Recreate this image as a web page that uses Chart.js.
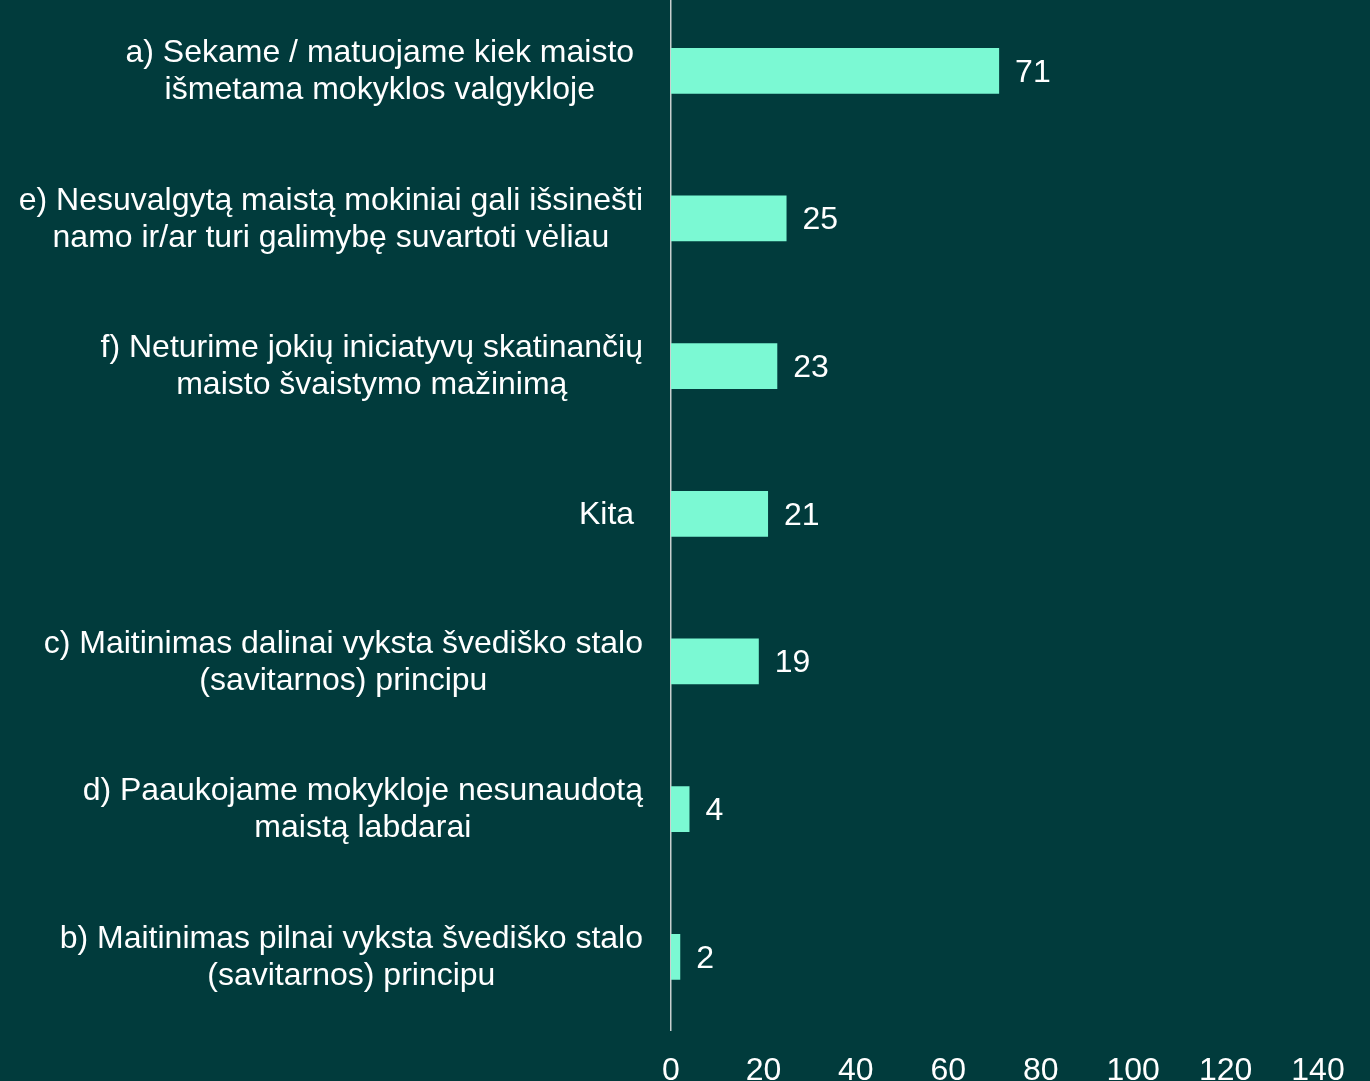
<!DOCTYPE html>
<html>
<head>
<meta charset="utf-8">
<script src="https://cdn.jsdelivr.net/npm/chart.js@4"></script>
<style>
  html, body { margin:0; padding:0; background:#013b3c; overflow:hidden; }
  #wrap { position:absolute; left:0; top:-3px; width:1370px; height:1114px; }
</style>
</head>
<body>
<div id="wrap"><canvas id="chart"></canvas></div>
<script>
// ---- Data ----
const labels = [
  ['a) Sekame / matuojame kiek maisto ', 'išmetama mokyklos valgykloje'],
  ['e) Nesuvalgytą maistą mokiniai gali išsinešti', 'namo ir/ar turi galimybę suvartoti vėliau'],
  ['f) Neturime jokių iniciatyvų skatinančių', 'maisto švaistymo mažinimą'],
  ['Kita '],
  ['c) Maitinimas dalinai vyksta švediško stalo', '(savitarnos) principu'],
  ['d) Paaukojame mokykloje nesunaudotą', 'maistą labdarai'],
  ['b) Maitinimas pilnai vyksta švediško stalo', '(savitarnos) principu'],
];
const values = [71, 25, 23, 21, 19, 4, 2];
const xTicks = [0, 20, 40, 60, 80, 100, 120, 140];

const FONT = 'Liberation Sans, Arial, sans-serif';
const TEXT = '#ffffff';

// ---- Category labels: block right-aligned, lines centred inside block ----
const categoryLabels = {
  id: 'categoryLabels',
  afterDraw(chart) {
    const { ctx, scales: { y } } = chart;
    const lh = 37;
    ctx.save();
    ctx.font = `32px ${FONT}`;
    ctx.fillStyle = TEXT;
    ctx.textAlign = 'center';
    ctx.textBaseline = 'middle';
    labels.forEach((lines, i) => {
      const cy = y.getPixelForValue(i);
      const widest = Math.max(...lines.map(l => ctx.measureText(l).width));
      const trimmed = Math.max(...lines.map(l => ctx.measureText(l.trimEnd()).width));
      const right = chart.chartArea.left - 28;
      const cx = right - widest + trimmed / 2;
      const top = cy - (lines.length - 1) * lh / 2 + 1;
      lines.forEach((l, k) => ctx.fillText(l.trimEnd(), cx, top + k * lh));
    });
    ctx.restore();
  }
};

// ---- Value labels after bar ends ----
const valueLabels = {
  id: 'valueLabels',
  afterDatasetsDraw(chart) {
    const { ctx } = chart;
    const meta = chart.getDatasetMeta(0);
    ctx.save();
    ctx.font = `32px ${FONT}`;
    ctx.fillStyle = TEXT;
    ctx.textAlign = 'left';
    ctx.textBaseline = 'middle';
    meta.data.forEach((bar, i) => {
      ctx.fillText(String(values[i]), bar.x + 16, bar.y + 2);
    });
    ctx.restore();
  }
};

new Chart(document.getElementById('chart'), {
  type: 'bar',
  data: {
    labels: labels.map(l => l.join(' ')),
    datasets: [{
      data: values,
      backgroundColor: '#7bf9d3',
      borderWidth: 0,
      categoryPercentage: 1,
      barPercentage: 0.31,
    }],
  },
  options: {
    indexAxis: 'y',
    responsive: true,
    maintainAspectRatio: false,
    animation: false,
    layout: { padding: { left: 671, right: 52, top: 0, bottom: 0 } },
    plugins: { legend: { display:false }, tooltip: { enabled:false } },
    scales: {
      x: {
        min: 0, max: 140,
        afterBuildTicks: axis => { axis.ticks = xTicks.map(v => ({ value: v })); },
        grid: { display:false, drawTicks:false },
        border: { display:false },
        ticks: { color: TEXT, font: { family: FONT, size: 32 }, padding: 21, maxRotation: 0 },
      },
      y: {
        grid: { display:false, drawTicks:false },
        border: { display:true, color:'#c8cfcf', width:1.5 },
        ticks: { display:false },
      },
    },
  },
  plugins: [categoryLabels, valueLabels],
});
</script>
</body>
</html>
